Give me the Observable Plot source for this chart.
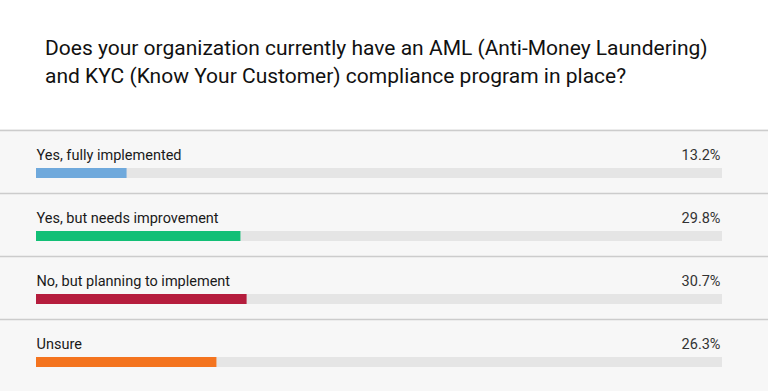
<!DOCTYPE html>
<html>
<head>
<meta charset="utf-8">
<script src="https://cdn.jsdelivr.net/npm/d3@7"></script>
<script src="https://cdn.jsdelivr.net/npm/@observablehq/plot@0.6"></script>
<style>
  html, body { margin: 0; padding: 0; background: #f7f7f7; }
  #title {
    height: 129px; box-sizing: border-box; background: #ffffff;
    padding: 34px 0 0 45px; margin: 0;
    font-family: Roboto, "Noto Sans", sans-serif; font-weight: 400;
    font-size: 21px; line-height: 28px; color: #111;
  }
  #chart svg { display: block; }
</style>
</head>
<body>
<div id="title">Does your organization currently have an AML (Anti-Money Laundering)<br>and KYC (Know Your Customer) compliance program in place?</div>
<div id="chart"></div>
<script>
const categories = [
  "Yes, fully implemented",
  "Yes, but needs improvement",
  "No, but planning to implement",
  "Unsure"
];
const values = [13.2, 29.8, 30.7, 26.3];
const colors = ["#6fa9dc", "#12bf76", "#b51d3d", "#f4741f"];

const rows = categories.map((label, i) => ({label, value: values[i], color: colors[i], i}));
const fmt = v => d3.format(".1f")(v) + "%";

const chart = Plot.plot({
  width: 768,
  height: 262,
  marginTop: 1,
  marginBottom: 9,
  marginLeft: 36,
  marginRight: 46,
  x: {domain: [0, 100], axis: null},
  y: {domain: [0, categories.length], reverse: true, axis: null},
  style: {background: "#f7f7f7", fontFamily: "Roboto, sans-serif"},
  marks: [
    Plot.ruleY(rows, {y: "i", stroke: "#cccccc", strokeWidth: 1.5, insetLeft: -36, insetRight: -46}),
    Plot.rect(rows, {x1: 0, x2: 100, y1: "i", y2: d => d.i + 1, fill: "#e5e5e5", insetTop: 38, insetBottom: 15}),
    Plot.rect(rows, {x1: 0, x2: "value", y1: "i", y2: d => d.i + 1, fill: d => d.color, insetTop: 38, insetBottom: 15}),
    Plot.text(rows, {x: 0, y: "i", text: "label", textAnchor: "start", dy: 24.5, fontSize: 14.5, fill: "#1a1a1a"}),
    Plot.text(rows, {x: 100, y: "i", text: d => fmt(d.value), textAnchor: "end", dx: -2, dy: 24.5, fontSize: 14.5, fill: "#333"})
  ]
});
document.getElementById("chart").appendChild(chart);
</script>
</body>
</html>
